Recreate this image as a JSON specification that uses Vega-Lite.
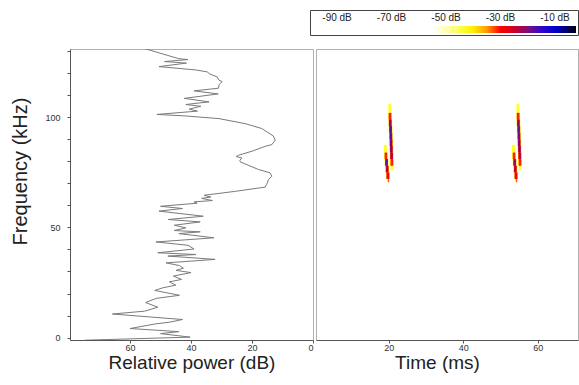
{
  "$schema": "https://vega.github.io/schema/vega-lite/v6.json",
  "padding": {"left": 10, "top": 9, "right": 0, "bottom": 0},
  "background": "white",
  "config": {
    "font": "Liberation Sans",
    "view": {"stroke": "#b0b0b0", "strokeWidth": 1},
    "axis": {"labelFont": "Liberation Sans", "titleFont": "Liberation Sans", "labelFontSize": 9, "labelColor": "#333333", "titleFontSize": 19, "titleFontWeight": "normal", "titleColor": "#222222", "domainColor": "#555555", "tickColor": "#555555", "tickSize": 3, "grid": false},
    "legend": {"labelFont": "Liberation Sans", "titleFont": "Liberation Sans"}
  },
  "datasets": {
    "spectrum": [
      {"f": 131.5, "p": 56}, {"f": 126.6, "p": 44}, {"f": 126.2, "p": 41}, {"f": 125.3, "p": 48.7},
      {"f": 124.6, "p": 41.5}, {"f": 123.0, "p": 50.5}, {"f": 121.5, "p": 38.5}, {"f": 120.6, "p": 34.6},
      {"f": 119.8, "p": 34.1}, {"f": 118.3, "p": 31.4}, {"f": 116.8, "p": 30.8}, {"f": 116.2, "p": 29.8},
      {"f": 114.8, "p": 30.8}, {"f": 113.2, "p": 31}, {"f": 112.0, "p": 39}, {"f": 110.6, "p": 31.1},
      {"f": 108.6, "p": 42.2}, {"f": 107.0, "p": 34.1}, {"f": 105.8, "p": 41.7}, {"f": 105.0, "p": 36.8},
      {"f": 103.7, "p": 40.6}, {"f": 102.8, "p": 37.9}, {"f": 101.3, "p": 51.2}, {"f": 100.6, "p": 41.7},
      {"f": 99.4, "p": 30.8}, {"f": 97.1, "p": 22.2}, {"f": 94.9, "p": 16.8}, {"f": 91.5, "p": 13.0},
      {"f": 89.6, "p": 12.4}, {"f": 87.6, "p": 13.5}, {"f": 86.8, "p": 15.7}, {"f": 84.6, "p": 20.0},
      {"f": 82.8, "p": 24.4}, {"f": 82.2, "p": 25.2}, {"f": 81.5, "p": 23.3}, {"f": 80.5, "p": 24},
      {"f": 79.7, "p": 23.8}, {"f": 78.8, "p": 22.2}, {"f": 76.3, "p": 17.9}, {"f": 74.8, "p": 14.1},
      {"f": 73.2, "p": 13.5}, {"f": 71.7, "p": 14.6}, {"f": 69.5, "p": 15.2}, {"f": 68.3, "p": 15.7},
      {"f": 66.4, "p": 25.4}, {"f": 64.6, "p": 35.7}, {"f": 63.8, "p": 33.5}, {"f": 63.2, "p": 36.5},
      {"f": 62.2, "p": 33.0}, {"f": 61.6, "p": 39.0}, {"f": 61.0, "p": 38}, {"f": 59.6, "p": 50},
      {"f": 58.6, "p": 42.8}, {"f": 57.4, "p": 50.5}, {"f": 55.1, "p": 36}, {"f": 53.6, "p": 47.5},
      {"f": 52.5, "p": 37}, {"f": 51.0, "p": 45.5}, {"f": 49.8, "p": 41.7}, {"f": 48.6, "p": 45.5},
      {"f": 48.0, "p": 37}, {"f": 47.2, "p": 44}, {"f": 45.3, "p": 32.5}, {"f": 43.4, "p": 51.5},
      {"f": 41.9, "p": 41}, {"f": 40.2, "p": 39}, {"f": 38.5, "p": 50.9}, {"f": 37.7, "p": 38.4},
      {"f": 37.0, "p": 47.6}, {"f": 35.5, "p": 32.1}, {"f": 33.9, "p": 48.2}, {"f": 32.7, "p": 43.8},
      {"f": 31.5, "p": 42.5}, {"f": 30.5, "p": 44.9}, {"f": 29.5, "p": 40}, {"f": 27.9, "p": 45.8},
      {"f": 26.4, "p": 43.1}, {"f": 25.3, "p": 47.1}, {"f": 23.8, "p": 45}, {"f": 22.6, "p": 49.2},
      {"f": 21.4, "p": 51.9}, {"f": 19.2, "p": 43.8}, {"f": 17.8, "p": 51.4}, {"f": 15.9, "p": 54.9},
      {"f": 13.8, "p": 50.9}, {"f": 12.0, "p": 55.2}, {"f": 10.7, "p": 65.8}, {"f": 8.2, "p": 42.8},
      {"f": 7.0, "p": 47}, {"f": 6.2, "p": 51.7}, {"f": 4.1, "p": 60}, {"f": 2.7, "p": 44},
      {"f": 1.8, "p": 50}, {"f": 0.2, "p": 40.3}, {"f": -1.2, "p": 75}
    ],
    "spec": [
      {"t0": 19.9, "t1": 20.7, "f0": 102, "f1": 106, "db": -43},
      {"t0": 19.85, "t1": 20.85, "f0": 99, "f1": 102, "db": -40},
      {"t0": 19.92, "t1": 20.92, "f0": 96, "f1": 99, "db": -40},
      {"t0": 20.0, "t1": 21.0, "f0": 93, "f1": 96, "db": -40},
      {"t0": 20.07, "t1": 21.07, "f0": 90, "f1": 93, "db": -40},
      {"t0": 20.14, "t1": 21.14, "f0": 87, "f1": 90, "db": -40},
      {"t0": 20.21, "t1": 21.21, "f0": 84, "f1": 87, "db": -40},
      {"t0": 20.28, "t1": 21.28, "f0": 81, "f1": 84, "db": -40},
      {"t0": 20.35, "t1": 21.35, "f0": 78, "f1": 81, "db": -40},
      {"t0": 20.5, "t1": 21.3, "f0": 76, "f1": 78, "db": -43},
      {"t0": 18.7, "t1": 19.5, "f0": 84, "f1": 87.5, "db": -43},
      {"t0": 18.75, "t1": 19.75, "f0": 81, "f1": 84, "db": -40},
      {"t0": 18.92, "t1": 19.92, "f0": 78, "f1": 81, "db": -40},
      {"t0": 19.1, "t1": 20.1, "f0": 75, "f1": 78, "db": -40},
      {"t0": 19.28, "t1": 20.28, "f0": 72, "f1": 75, "db": -40},
      {"t0": 19.55, "t1": 20.3, "f0": 70.5, "f1": 72, "db": -43},
      {"t0": 20.0, "t1": 20.7, "f0": 99, "f1": 102, "db": -31},
      {"t0": 20.04, "t1": 20.8, "f0": 96, "f1": 99, "db": -28},
      {"t0": 20.12, "t1": 20.88, "f0": 93, "f1": 96, "db": -28},
      {"t0": 20.19, "t1": 20.95, "f0": 90, "f1": 93, "db": -28},
      {"t0": 20.26, "t1": 21.02, "f0": 87, "f1": 90, "db": -28},
      {"t0": 20.33, "t1": 21.09, "f0": 84, "f1": 87, "db": -28},
      {"t0": 20.4, "t1": 21.16, "f0": 81, "f1": 84, "db": -27},
      {"t0": 20.5, "t1": 21.2, "f0": 78, "f1": 81, "db": -31},
      {"t0": 18.92, "t1": 19.58, "f0": 81, "f1": 84, "db": -31},
      {"t0": 19.04, "t1": 19.8, "f0": 78, "f1": 81, "db": -27},
      {"t0": 19.22, "t1": 19.98, "f0": 75, "f1": 78, "db": -28},
      {"t0": 19.4, "t1": 20.16, "f0": 72, "f1": 75, "db": -29},
      {"t0": 19.78, "t1": 20.06, "f0": 70.5, "f1": 72, "db": -33},
      {"t0": 20.22, "t1": 20.62, "f0": 96, "f1": 99, "db": -22},
      {"t0": 20.28, "t1": 20.72, "f0": 93, "f1": 96, "db": -18},
      {"t0": 20.35, "t1": 20.79, "f0": 90, "f1": 93, "db": -17},
      {"t0": 20.42, "t1": 20.86, "f0": 87, "f1": 90, "db": -17},
      {"t0": 20.49, "t1": 20.93, "f0": 84, "f1": 87, "db": -18},
      {"t0": 20.58, "t1": 20.98, "f0": 81, "f1": 84, "db": -22},
      {"t0": 19.2, "t1": 19.64, "f0": 78, "f1": 81, "db": -18},
      {"t0": 19.4, "t1": 19.8, "f0": 75, "f1": 78, "db": -22},
      {"t0": 54.3, "t1": 55.1, "f0": 102, "f1": 106, "db": -43},
      {"t0": 54.25, "t1": 55.25, "f0": 99, "f1": 102, "db": -40},
      {"t0": 54.32, "t1": 55.32, "f0": 96, "f1": 99, "db": -40},
      {"t0": 54.4, "t1": 55.4, "f0": 93, "f1": 96, "db": -40},
      {"t0": 54.47, "t1": 55.47, "f0": 90, "f1": 93, "db": -40},
      {"t0": 54.54, "t1": 55.54, "f0": 87, "f1": 90, "db": -40},
      {"t0": 54.61, "t1": 55.61, "f0": 84, "f1": 87, "db": -40},
      {"t0": 54.68, "t1": 55.68, "f0": 81, "f1": 84, "db": -40},
      {"t0": 54.75, "t1": 55.75, "f0": 78, "f1": 81, "db": -40},
      {"t0": 54.9, "t1": 55.7, "f0": 76, "f1": 78, "db": -43},
      {"t0": 53.1, "t1": 53.9, "f0": 84, "f1": 87.5, "db": -43},
      {"t0": 53.15, "t1": 54.15, "f0": 81, "f1": 84, "db": -40},
      {"t0": 53.32, "t1": 54.32, "f0": 78, "f1": 81, "db": -40},
      {"t0": 53.5, "t1": 54.5, "f0": 75, "f1": 78, "db": -40},
      {"t0": 53.68, "t1": 54.68, "f0": 72, "f1": 75, "db": -40},
      {"t0": 53.95, "t1": 54.7, "f0": 70.5, "f1": 72, "db": -43},
      {"t0": 54.4, "t1": 55.1, "f0": 99, "f1": 102, "db": -31},
      {"t0": 54.44, "t1": 55.2, "f0": 96, "f1": 99, "db": -28},
      {"t0": 54.52, "t1": 55.28, "f0": 93, "f1": 96, "db": -28},
      {"t0": 54.59, "t1": 55.35, "f0": 90, "f1": 93, "db": -28},
      {"t0": 54.66, "t1": 55.42, "f0": 87, "f1": 90, "db": -28},
      {"t0": 54.73, "t1": 55.49, "f0": 84, "f1": 87, "db": -28},
      {"t0": 54.8, "t1": 55.56, "f0": 81, "f1": 84, "db": -27},
      {"t0": 54.9, "t1": 55.6, "f0": 78, "f1": 81, "db": -31},
      {"t0": 53.32, "t1": 53.98, "f0": 81, "f1": 84, "db": -31},
      {"t0": 53.44, "t1": 54.2, "f0": 78, "f1": 81, "db": -27},
      {"t0": 53.62, "t1": 54.38, "f0": 75, "f1": 78, "db": -28},
      {"t0": 53.8, "t1": 54.56, "f0": 72, "f1": 75, "db": -29},
      {"t0": 54.18, "t1": 54.46, "f0": 70.5, "f1": 72, "db": -33},
      {"t0": 54.62, "t1": 55.02, "f0": 96, "f1": 99, "db": -22},
      {"t0": 54.68, "t1": 55.12, "f0": 93, "f1": 96, "db": -18},
      {"t0": 54.75, "t1": 55.19, "f0": 90, "f1": 93, "db": -17},
      {"t0": 54.82, "t1": 55.26, "f0": 87, "f1": 90, "db": -17},
      {"t0": 54.89, "t1": 55.33, "f0": 84, "f1": 87, "db": -18},
      {"t0": 54.98, "t1": 55.38, "f0": 81, "f1": 84, "db": -22},
      {"t0": 53.6, "t1": 54.04, "f0": 78, "f1": 81, "db": -22},
      {"t0": 53.8, "t1": 54.2, "f0": 75, "f1": 78, "db": -23}
    ]
  },
  "spacing": 1,
  "hconcat": [
    {
      "width": 243,
      "height": 291,
      "data": {"name": "spectrum"},
      "mark": {"type": "line", "color": "#7a7a7a", "strokeWidth": 1, "clip": true},
      "encoding": {
        "x": {"field": "p", "type": "quantitative",
          "scale": {"domain": [0, 79.7], "reverse": true, "nice": false, "zero": false},
          "axis": {"values": [0, 20, 40, 60], "title": "Relative power (dB)", "labelPadding": 0, "titleY": 13, "titleBaseline": "top"}},
        "y": {"field": "f", "type": "quantitative",
          "scale": {"domain": [-1.1, 131], "nice": false, "zero": false},
          "axis": {"values": [0, 10, 20, 30, 40, 50, 60, 70, 80, 90, 100, 110, 120, 130],
            "labelExpr": "datum.value % 50 === 0 ? datum.label : ''",
            "title": "Frequency (kHz)", "titleFontSize": 20, "labelPadding": 7, "titlePadding": 14, "titleY": 122}},
        "order": {"field": "f", "type": "quantitative"}
      }
    },
    {
      "width": 262,
      "height": 291,
      "data": {"name": "spec"},
      "mark": {"type": "rect", "clip": true},
      "encoding": {
        "x": {"field": "t0", "type": "quantitative",
          "scale": {"domain": [0.48, 70.82], "nice": false, "zero": false},
          "axis": {"values": [20, 40, 60], "title": "Time (ms)", "labelPadding": 0, "titleY": 13, "titleBaseline": "top", "titleX": 121}},
        "x2": {"field": "t1"},
        "y": {"field": "f0", "type": "quantitative",
          "scale": {"domain": [-1.1, 131], "nice": false, "zero": false}, "axis": null},
        "y2": {"field": "f1"},
        "color": {"field": "db", "type": "quantitative",
          "scale": {"type": "linear", "interpolate": "rgb",
            "domain": [-99.2, -54, -41, -35, -30, -24, -18, -12, -6, -2.3],
            "range": ["#ffffff", "#ffffff", "#ffff00", "#ff9900", "#ff0000", "#c00030", "#6010a0", "#0000ff", "#000070", "#000010"]},
          "legend": {"orient": "none", "legendX": 240, "legendY": -39, "direction": "horizontal",
            "title": " ", "titleFontSize": 10, "titlePadding": 4,
            "gradientLength": 264, "gradientThickness": 7, "gradientStrokeWidth": 0,
            "values": [-90, -70, -50, -30, -10], "labelExpr": "datum.value + ' dB'",
            "labelOffset": -20, "labelFontSize": 10, "labelColor": "#222222",
            "labelOverlap": false, "padding": 2, "strokeColor": "#444444", "fillColor": "white"}}
      }
    }
  ]
}
